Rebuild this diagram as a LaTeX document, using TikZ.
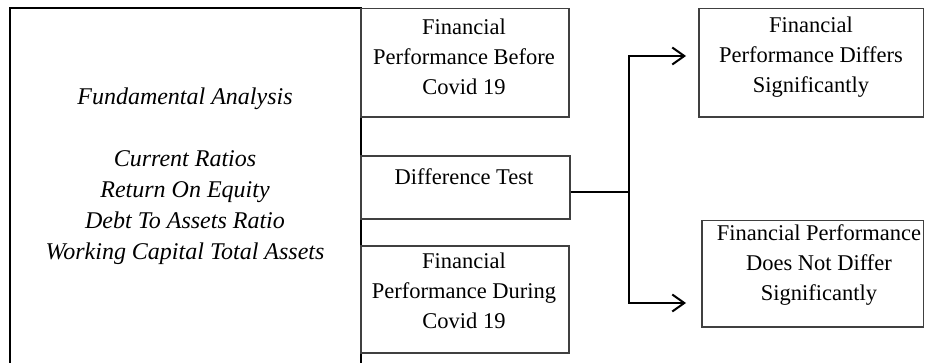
\documentclass[tikz,border=0pt]{standalone}
\usepackage{fontspec}
\setmainfont{Liberation Serif}
\usetikzlibrary{arrows.meta}
\begin{document}
\begin{tikzpicture}[x=1pt,y=-1pt,
  bigbox/.style={draw=black,line width=1.6pt,rectangle,inner sep=0pt},
  box/.style={draw=black!75,line width=1.2pt,rectangle,inner sep=0pt},
  txt/.style={align=center,inner sep=0pt,font=\fontsize{22.5}{30}\selectfont},
  itxt/.style={align=center,inner sep=0pt,font=\fontsize{24}{31}\selectfont\itshape},
  conn/.style={draw=black,line width=2pt},
  arr/.style={conn,-{Straight Barb[length=12pt,width=17pt,line width=2pt]}}]
\useasboundingbox (0,0) rectangle (925,363);
% boxes
\node[bigbox,minimum width=351pt,minimum height=380pt] (fa) at (185.5,198) {};
\node[box,minimum width=208pt,minimum height=108.5pt] (before) at (465,62.75) {};
\node[box,minimum width=209pt,minimum height=63pt] (diff) at (465.5,187.5) {};
\node[box,minimum width=208pt,minimum height=107pt] (during) at (465,299.5) {};
\node[box,minimum width=224.5pt,minimum height=108.5pt] (r1) at (811.25,62.75) {};
\node[box,minimum width=221.5pt,minimum height=106.3pt] (r2) at (812.75,273.85) {};
% texts
\node[itxt] (fatxt) at (185,176) {Fundamental Analysis\\[31pt]Current Ratios\\Return On Equity\\Debt To Assets Ratio\\Working Capital Total Assets};
\node[txt] (beforetxt) at (464,57) {Financial\\Performance Before\\Covid 19};
\node[txt] (difftxt) at (464,177) {Difference Test};
\node[txt] (duringtxt) at (464,291) {Financial\\Performance During\\Covid 19};
\node[txt] (r1txt) at (811,57) {Financial\\Performance Differs\\Significantly};
\node[txt] (r2txt) at (819,265) {Financial Performance\\Does Not Differ\\Significantly};
% connectors
\coordinate (j) at (629,192);
\coordinate (aT) at (686,56);
\coordinate (aB) at (686,303);
\draw[conn] (diff.east |- j) -- (j);
\draw[arr] (j) |- (aT);
\draw[arr] (j) |- (aB);
\end{tikzpicture}
\end{document}
